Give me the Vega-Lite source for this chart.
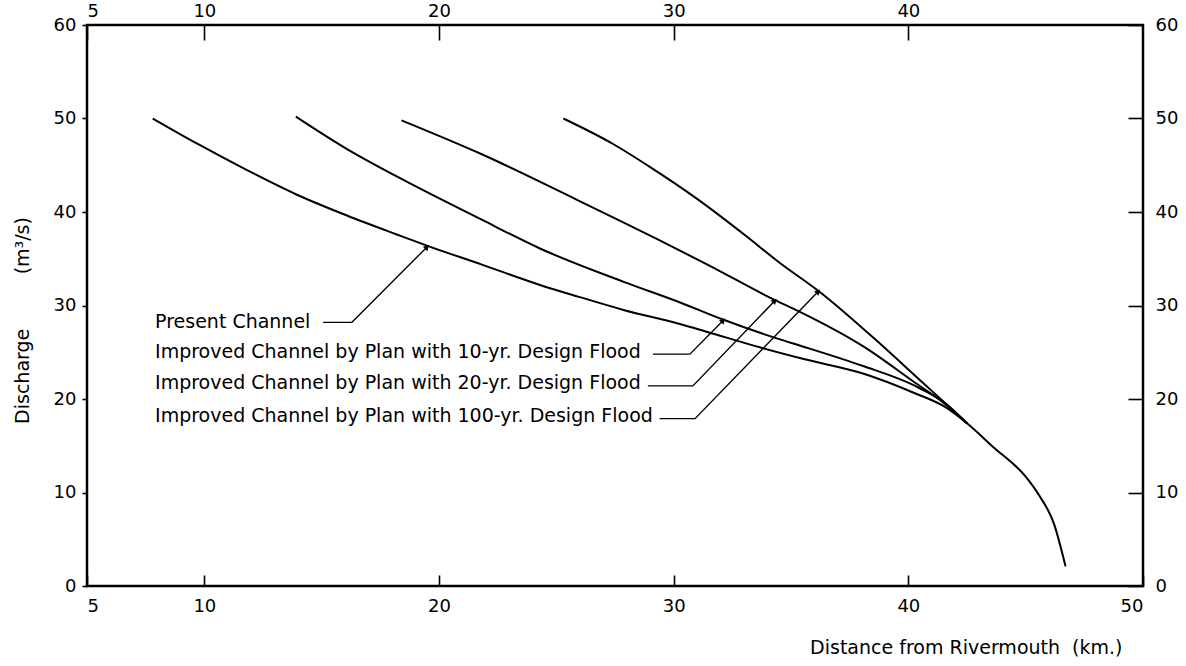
{
  "$schema": "https://vega.github.io/schema/vega-lite/v6.json",
  "width": 1056,
  "height": 561,
  "autosize": "none",
  "padding": {"left": 87, "top": 25, "right": 43, "bottom": 80},
  "background": "white",
  "config": {
    "view": {"stroke": "black", "strokeWidth": 2.5},
    "font": "DejaVu Sans",
    "axis": {"domain": false, "grid": false, "labelColor": "black", "tickColor": "black", "labelFont": "DejaVu Sans", "labelFontSize": 18, "titleFont": "DejaVu Sans", "titleFontWeight": "normal", "titleColor": "black", "tickWidth": 1.6}
  },
  "datasets": {
    "curves": [
      {"series": "present", "x": 7.8, "y": 50.0},
      {"series": "present", "x": 9.7, "y": 47.3},
      {"series": "present", "x": 11.8, "y": 44.5},
      {"series": "present", "x": 13.9, "y": 41.9},
      {"series": "present", "x": 16.1, "y": 39.6},
      {"series": "present", "x": 18.2, "y": 37.6},
      {"series": "present", "x": 19.6, "y": 36.3},
      {"series": "present", "x": 21.8, "y": 34.4},
      {"series": "present", "x": 24.3, "y": 32.2},
      {"series": "present", "x": 26.0, "y": 30.9},
      {"series": "present", "x": 27.9, "y": 29.5},
      {"series": "present", "x": 30.3, "y": 28.0},
      {"series": "present", "x": 31.4, "y": 27.2},
      {"series": "present", "x": 33.7, "y": 25.5},
      {"series": "present", "x": 35.5, "y": 24.3},
      {"series": "present", "x": 38.1, "y": 22.7},
      {"series": "present", "x": 40.2, "y": 20.7},
      {"series": "present", "x": 41.6, "y": 19.1},
      {"series": "present", "x": 42.5, "y": 17.4},
      {"series": "present", "x": 43.6, "y": 14.9},
      {"series": "present", "x": 45.0, "y": 11.7},
      {"series": "present", "x": 45.6, "y": 9.6},
      {"series": "present", "x": 46.2, "y": 6.7},
      {"series": "present", "x": 46.7, "y": 2.1},
      {"series": "y10", "x": 13.9, "y": 50.2},
      {"series": "y10", "x": 16.1, "y": 46.7},
      {"series": "y10", "x": 18.2, "y": 43.8},
      {"series": "y10", "x": 21.8, "y": 39.2},
      {"series": "y10", "x": 24.3, "y": 36.1},
      {"series": "y10", "x": 27.9, "y": 32.5},
      {"series": "y10", "x": 30.3, "y": 30.3},
      {"series": "y10", "x": 32.1, "y": 28.5},
      {"series": "y10", "x": 34.5, "y": 26.4},
      {"series": "y10", "x": 35.4, "y": 25.7},
      {"series": "y10", "x": 38.1, "y": 23.5},
      {"series": "y10", "x": 40.2, "y": 21.5},
      {"series": "y10", "x": 41.6, "y": 19.5},
      {"series": "y10", "x": 42.5, "y": 17.4},
      {"series": "y20", "x": 18.4, "y": 49.8},
      {"series": "y20", "x": 21.8, "y": 46.2},
      {"series": "y20", "x": 25.8, "y": 41.4},
      {"series": "y20", "x": 29.3, "y": 37.1},
      {"series": "y20", "x": 31.5, "y": 34.3},
      {"series": "y20", "x": 34.3, "y": 30.6},
      {"series": "y20", "x": 35.4, "y": 29.3},
      {"series": "y20", "x": 38.1, "y": 25.6},
      {"series": "y20", "x": 40.2, "y": 21.9},
      {"series": "y20", "x": 41.6, "y": 19.4},
      {"series": "y20", "x": 42.5, "y": 17.4},
      {"series": "y100", "x": 25.3, "y": 50.0},
      {"series": "y100", "x": 27.4, "y": 47.3},
      {"series": "y100", "x": 29.0, "y": 44.8},
      {"series": "y100", "x": 31.0, "y": 41.4},
      {"series": "y100", "x": 33.1, "y": 37.4},
      {"series": "y100", "x": 34.5, "y": 34.6},
      {"series": "y100", "x": 36.2, "y": 31.5},
      {"series": "y100", "x": 38.8, "y": 25.9},
      {"series": "y100", "x": 40.5, "y": 22.0},
      {"series": "y100", "x": 41.6, "y": 19.5},
      {"series": "y100", "x": 42.5, "y": 17.4}
    ],
    "leaders": [
      {"seg": "present", "order": 1, "x": 15.06, "y": 28.2},
      {"seg": "present", "order": 2, "x": 16.29, "y": 28.2},
      {"seg": "present", "order": 3, "x": 19.49, "y": 36.26},
      {"seg": "y10", "order": 1, "x": 29.12, "y": 24.8},
      {"seg": "y10", "order": 2, "x": 30.69, "y": 24.8},
      {"seg": "y10", "order": 3, "x": 32.11, "y": 28.4},
      {"seg": "y20", "order": 1, "x": 28.9, "y": 21.4},
      {"seg": "y20", "order": 2, "x": 30.82, "y": 21.4},
      {"seg": "y20", "order": 3, "x": 34.31, "y": 30.5},
      {"seg": "y100", "order": 1, "x": 29.4, "y": 17.9},
      {"seg": "y100", "order": 2, "x": 30.91, "y": 17.9},
      {"seg": "y100", "order": 3, "x": 36.16, "y": 31.5}
    ],
    "labels": [
      {"x": 7.9, "y": 28.2, "text": "Present Channel"},
      {"x": 7.9, "y": 25.0, "text": "Improved Channel by Plan with 10-yr. Design Flood"},
      {"x": 7.9, "y": 21.7, "text": "Improved Channel by Plan with 20-yr. Design Flood"},
      {"x": 7.9, "y": 18.2, "text": "Improved Channel by Plan with 100-yr. Design Flood"}
    ]
  },
  "resolve": {"axis": {"x": "independent", "y": "independent"}},
  "layer": [
    {
      "data": {"name": "labels"},
      "mark": {"type": "text", "align": "left", "baseline": "middle", "fontSize": 19, "font": "DejaVu Sans", "color": "black"},
      "encoding": {
        "x": {"field": "x", "type": "quantitative", "scale": {"domain": [5, 50], "nice": false, "zero": false}, "axis": null},
        "y": {"field": "y", "type": "quantitative", "scale": {"domain": [0, 60], "nice": false}, "axis": null},
        "text": {"field": "text"}
      }
    },
    {
      "data": {"name": "leaders"},
      "transform": [{"filter": "datum.order == 3"}],
      "mark": {"type": "point", "shape": "triangle-up", "angle": 45, "filled": true, "color": "black", "size": 40, "opacity": 1},
      "encoding": {
        "x": {"field": "x", "type": "quantitative", "axis": null},
        "y": {"field": "y", "type": "quantitative", "axis": null}
      }
    },
    {
      "data": {"name": "curves"},
      "mark": {"type": "line", "color": "black", "strokeWidth": 2, "interpolate": "monotone"},
      "encoding": {
        "x": {"field": "x", "type": "quantitative",
          "axis": {"orient": "bottom", "values": [5, 10, 20, 30, 40, 50], "tickSize": -11, "labelPadding": 22, "labelBaseline": "top",
            "title": "Distance from Rivermouth\u00a0\u00a0(km.)", "titleFontSize": 19, "titleX": 1035, "titleY": 61, "titleAlign": "right", "titleBaseline": "middle", "titleAnchor": null}},
        "y": {"field": "y", "type": "quantitative",
          "axis": {"orient": "left", "values": [0, 10, 20, 30, 40, 50, 60], "tickSize": 5, "labelPadding": 6,
            "title": "Discharge\u00a0\u00a0\u00a0\u00a0\u00a0\u00a0\u00a0\u00a0\u00a0(m³/s)", "titleFontSize": 19, "titleAngle": -90, "titleX": -65, "titleY": 295, "titleAlign": "center", "titleBaseline": "middle", "titleAnchor": null}},
        "detail": {"field": "series"}
      }
    },
    {
      "data": {"name": "leaders"},
      "mark": {"type": "line", "color": "black", "strokeWidth": 1.4},
      "encoding": {
        "x": {"field": "x", "type": "quantitative",
          "axis": {"orient": "top", "values": [5, 10, 20, 30, 40], "tickSize": -15, "labelPadding": 20, "title": null}},
        "y": {"field": "y", "type": "quantitative",
          "axis": {"orient": "right", "values": [0, 10, 20, 30, 40, 50, 60], "tickSize": -15, "labelPadding": 27, "title": null}},
        "detail": {"field": "seg"},
        "order": {"field": "order"}
      }
    }
  ]
}
